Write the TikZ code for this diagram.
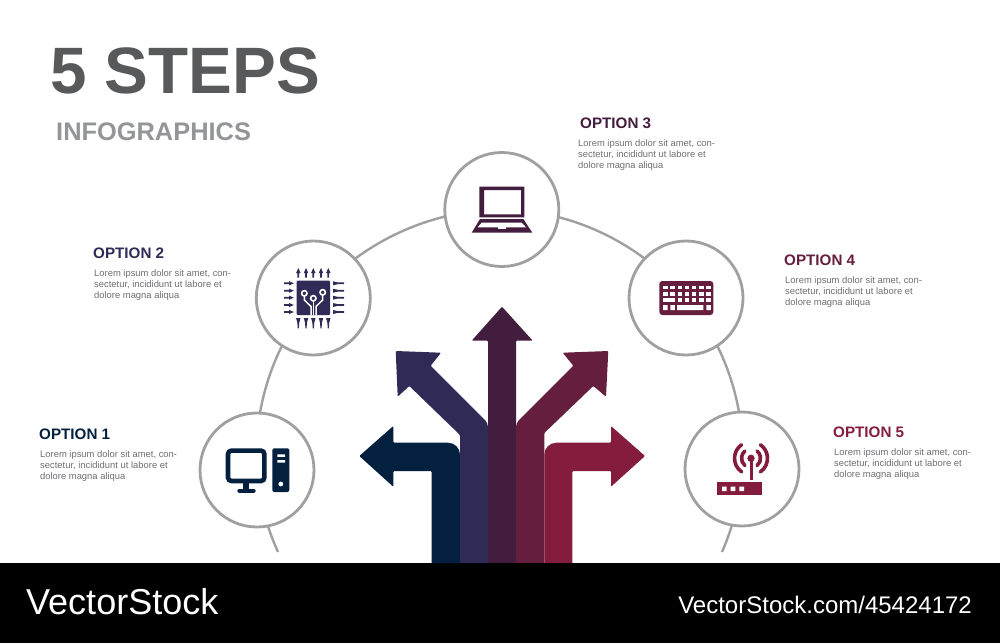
\documentclass[tikz,border=0pt]{standalone}
\usepackage{fontspec}
\setmainfont{Liberation Sans}
\usetikzlibrary{positioning,backgrounds}

\definecolor{stepone}{HTML}{03203F}
\definecolor{steptwo}{HTML}{2F2A56}
\definecolor{stepthree}{HTML}{431D3D}
\definecolor{stepfour}{HTML}{651E3D}
\definecolor{stepfive}{HTML}{841C3E}
\definecolor{ringgray}{HTML}{A0A0A0}
\definecolor{bodygray}{HTML}{6D6E71}
\definecolor{titlegray}{HTML}{58595B}
\definecolor{subgray}{HTML}{939598}

\tikzset{
	ring/.style={circle,draw=ringgray,line width=2.8pt,fill=white,minimum size=114pt,inner sep=0pt,outer sep=0pt},
	link/.style={draw=ringgray,line width=2.4pt},
	optionhead/.style={font=\bfseries\fontsize{15.2}{17}\selectfont,inner sep=0pt,anchor=west},
	optionbody/.style={font=\fontsize{9.4}{11.3}\selectfont,text=bodygray,align=left,inner sep=0pt,below right=10.5pt and 1pt},
	arrowshape/.style={rounded corners=1pt}
}

\begin{document}
\begin{tikzpicture}[x=1pt,y=-1pt]
	\useasboundingbox (0,0) rectangle (1000,643);

	% rings
	\node[ring] (step1) at (257,470) {};
	\node[ring] (step2) at (313.3,298) {};
	\node[ring] (step3) at (501.8,209.5) {};
	\node[ring] (step4) at (686,298) {};
	\node[ring] (step5) at (742,469) {};
	\coordinate (endleft) at (278,552);
	\coordinate (endright) at (722,552);

	% big arc behind the rings
	\begin{scope}[on background layer]
		\draw[link] (endleft) to[bend left=10,looseness=.87] (step1.center);
		\draw[link] (step1.center) to[bend left=22,looseness=.88] (step2.center);
		\draw[link] (step2.center) to[bend left=25,looseness=.88] (step3.center);
		\draw[link] (step3.center) to[bend left=25,looseness=.88] (step4.center);
		\draw[link] (step4.center) to[bend left=22,looseness=.88] (step5.center);
		\draw[link] (step5.center) to[bend left=10,looseness=.87] (endright);
	\end{scope}

	% title
	\node[inner sep=0pt,anchor=west,font=\bfseries\fontsize{65.6}{70}\selectfont,text=titlegray] (title) at (50,70.5) {5 STEPS};
	\node[inner sep=0pt,anchor=west,font=\bfseries\fontsize{25.4}{28}\selectfont,text=subgray] (subtitle) at (56,132) {INFOGRAPHICS};

	% options
	\node[optionhead,text=stepone] (head1) at (39,434) {OPTION 1};
	\node[optionbody] (body1) at (head1.south west) {Lorem ipsum dolor sit amet, con-\\sectetur, incididunt ut labore et\\dolore magna aliqua};
	\node[optionhead,text=steptwo] (head2) at (93,253) {OPTION 2};
	\node[optionbody] (body2) at (head2.south west) {Lorem ipsum dolor sit amet, con-\\sectetur, incididunt ut labore et\\dolore magna aliqua};
	\node[optionhead,text=stepthree] (head3) at (580,123) {OPTION 3};
	\node[optionbody,below right=10.5pt and -2pt] (body3) at (head3.south west) {Lorem ipsum dolor sit amet, con-\\sectetur, incididunt ut labore et\\dolore magna aliqua};
	\node[optionhead,text=stepfour] (head4) at (784,260) {OPTION 4};
	\node[optionbody] (body4) at (head4.south west) {Lorem ipsum dolor sit amet, con-\\sectetur, incididunt ut labore et\\dolore magna aliqua};
	\node[optionhead,text=stepfive] (head5) at (833,432) {OPTION 5};
	\node[optionbody] (body5) at (head5.south west) {Lorem ipsum dolor sit amet, con-\\sectetur, incididunt ut labore et\\dolore magna aliqua};

	% arrows
	\fill[arrowshape,stepone] (431.7,564) -- (431.7,471) -- (393.3,471) -- (393.3,486.7) -- (359.3,456) -- (393.3,426) -- (393.3,442.7) [rounded corners=12pt] -- (460,442.7) [rounded corners=1pt] -- (460,564) -- cycle;
	\fill[arrowshape,steptwo] (460,564) -- (460,435) -- (409.3,386) -- (397.7,396.7) -- (395.7,351) -- (441,352.7) -- (430.7,365.7) [rounded corners=4pt] -- (488,423) [rounded corners=1pt] -- (488,564) -- cycle;
	\fill[arrowshape,stepthree] (488,564) -- (488,340.7) -- (471.7,340.7) -- (502,306.7) -- (532.7,340.7) -- (516,340.7) -- (516,564) -- cycle;
	\fill[arrowshape,stepfour] (516,564) [rounded corners=4pt] -- (516,423) [rounded corners=1pt] -- (573.3,365.7) -- (562.7,352.7) -- (608.3,351) -- (606,396.7) -- (593.3,386) -- (544.3,433) -- (544.3,564) -- cycle;
	\fill[arrowshape,stepfive] (572.3,564) -- (572.3,471) -- (611,471) -- (611,486.7) -- (645,456) -- (611,426) -- (611,442.7) [rounded corners=12pt] -- (544.3,442.7) [rounded corners=1pt] -- (544.3,564) -- cycle;

	% computer
	\draw[stepone,line width=4.6pt,rounded corners=3.5pt] (228,450.6) rectangle (264.4,481);
	\fill[stepone] (243,483) rectangle (249.4,490);
	\draw[stepone,line width=4.2pt,line cap=round] (239.4,490.6) -- (253.6,490.6);
	\fill[stepone,rounded corners=2pt] (272.3,448.3) rectangle (289.3,492);
	\fill[white] (277.3,454.3) rectangle (285,456.8) (277.3,460) rectangle (285,462.5) (280.8,484) circle (2.4);

	% chip
	\fill[steptwo,rounded corners=1pt] (296.7,280.7) rectangle (330,315);
	\foreach \x in {298.3,306,313.3,321,328.3}{
		\fill[steptwo] (\x,268) -- (\x+2.2,273) -- (\x+.9,273) -- (\x+.9,277.7) -- (\x-.9,277.7) -- (\x-.9,273) -- (\x-2.2,273) -- cycle;
		\fill[steptwo] (\x-2.2,318) -- (\x+2.2,318) -- (\x+.9,323) -- (\x+.6,328.3) -- (\x-.6,328.3) -- (\x-.9,323) -- cycle;
	}
	\foreach \y in {283.3,290.7,297.7,305,312}{
		\fill[steptwo] (284,\y-.9) -- (289,\y-.9) -- (289,\y-2.1) -- (293.8,\y) -- (289,\y+2.1) -- (289,\y+.9) -- (284,\y+.9) -- cycle;
		\fill[steptwo] (333,\y-2) -- (337.5,\y-.9) -- (344,\y-.9) -- (344,\y+.9) -- (337.5,\y+.9) -- (333,\y+2) -- cycle;
	}
	\draw[white,line width=1.6pt] (304.3,293.3) circle (2.7) (313.3,298.3) circle (2.7) (322.7,292.3) circle (2.7);
	\draw[white,line width=1.5pt] (304.3,296) -- (304.3,300) -- (311,306.5) -- (311,315);
	\draw[white,line width=1.5pt] (313.3,301) -- (313.3,315);
	\draw[white,line width=1.5pt] (322.7,295) -- (322.7,300) -- (316,306.5) -- (316,315);

	% laptop
	\fill[stepthree,even odd rule] (479.3,186.7) rectangle (524.3,217.3) (484,190) rectangle (521,214.3);
	\fill[stepthree] (480,219) -- (523.3,219) -- (532.3,232.7) -- (471.7,232.7) -- cycle;
	\fill[white] (481.7,222.7) -- (521.7,222.7) -- (526,227.3) -- (477.7,227.3) -- cycle;
	\fill[white] (498.3,227.3) rectangle (506,229);

	% keyboard
	\fill[stepfour,rounded corners=3pt] (659.3,281) rectangle (713.3,315);
	\foreach \i in {0,...,6}{
		\fill[white] (663.2+7.2*\i,285.8) rectangle (667.6+7.2*\i,289.2);
		\fill[white] (663.2+7.2*\i,292) rectangle (667.6+7.2*\i,295.6);
	}
	\foreach \i in {2,...,6}
		\fill[white] (663.2+7.2*\i,298.4) rectangle (667.6+7.2*\i,302.4);
	\fill[white] (662.7,298.4) rectangle (674.6,302.4);
	\fill[white] (663.2,305.2) rectangle (667.6,310) (670.4,305.2) rectangle (674.8,310) (677,305.2) rectangle (703.3,310) (706.4,305.2) rectangle (710.8,310);

	% router
	\fill[stepfive] (716.7,482.3) rectangle (761.7,495.3);
	\fill[white] (722,486.7) rectangle (726.7,491) (730.7,486.7) rectangle (735.3,491) (739.3,486.7) rectangle (744,491);
	\fill[stepfive] (751,458.3) circle (3.7);
	\draw[stepfive,line width=3pt] (751,459) -- (751,480);
	\draw[stepfive,line width=3.6pt,line cap=round] (751,458.3) ++(130:9.5) arc[start angle=130,end angle=230,radius=9.5];
	\draw[stepfive,line width=3.6pt,line cap=round] (751,458.3) ++(50:9.5) arc[start angle=50,end angle=-50,radius=9.5];
	\draw[stepfive,line width=3.6pt,line cap=round] (751,458.3) ++(125:16.5) arc[start angle=125,end angle=235,radius=16.5];
	\draw[stepfive,line width=3.6pt,line cap=round] (751,458.3) ++(55:16.5) arc[start angle=55,end angle=-55,radius=16.5];

	% footer
	\fill[black] (0,563) rectangle (1000,643);
	\node[inner sep=0pt,anchor=west,text=white,font=\fontsize{36}{40}\selectfont] (brand) at (26,602) {VectorStock};
	\node[inner sep=0pt,anchor=east,text=white,font=\fontsize{24}{28}\selectfont] (stockid) at (972,605) {VectorStock.com/45424172};
\end{tikzpicture}
\end{document}
